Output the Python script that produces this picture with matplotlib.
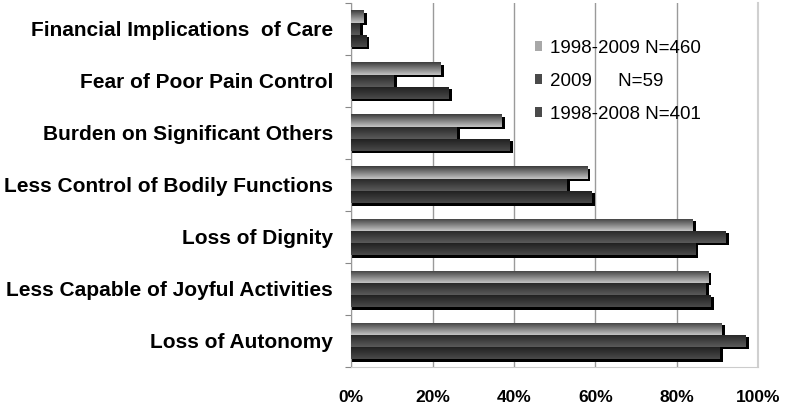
import numpy as np
import matplotlib
matplotlib.use("Agg")
import matplotlib.pyplot as plt
from matplotlib.colors import LinearSegmentedColormap

plt.rcParams['font.family'] = ['Liberation Sans', 'DejaVu Sans']

# categories top to bottom
categories = ["Financial Implications  of Care",
              "Fear of Poor Pain Control",
              "Burden on Significant Others",
              "Less Control of Bodily Functions",
              "Loss of Dignity",
              "Less Capable of Joyful Activities",
              "Loss of Autonomy"]
all_years = [3, 22, 37, 58, 84, 87.7, 91]     # 1998-2009 N=460
y2009 = [2, 10.5, 26, 53, 92, 87, 97]         # 2009 N=59
y9808 = [3.7, 24, 39, 59, 84.5, 88.4, 90.5]   # 1998-2008 N=401
series_names = ["1998-2009 N=460", "2009     N=59", "1998-2008 N=401"]

fig = plt.figure(figsize=(7.89, 4.04), dpi=100)
ax = fig.add_axes([0.445, 0.092, 0.516, 0.901])

y = np.arange(len(categories))
h = 0.235
offsets = [-h, 0, h]
grads = [("#c4c4c4", "#3c3c3c"), ("#5a5a5a", "#262626"), ("#4a4a4a", "#1e1e1e")]
legend_cols = ["#a8a8a8", "#4a4a4a", "#4a4a4a"]
data = [all_years, y2009, y9808]

grad = np.linspace(0, 1, 64).reshape(-1, 1)
for s in range(3):
    vals = np.array(data[s])
    yy = y + offsets[s]
    # drop shadow
    ax.barh(yy + 0.045, vals + 0.8, height=h, color="black", zorder=2)
    cmap = LinearSegmentedColormap.from_list("g%d" % s, grads[s])
    bars = ax.barh(yy, vals, height=h, color=legend_cols[s], zorder=3,
                   label=series_names[s])
    for b in bars:
        x0, y0 = b.get_x(), b.get_y()
        w, hh = b.get_width(), b.get_height()
        im = ax.imshow(grad, cmap=cmap, aspect="auto", zorder=4,
                       extent=(x0, x0 + w, y0, y0 + hh), origin="upper")
        im.set_clip_path(b)

ax.set_xlim(0, 100)
ax.set_ylim(len(categories) - 0.5, -0.5)
ax.set_xticks(np.arange(0, 101, 20))
ax.set_xticklabels(["%d%%" % v for v in range(0, 101, 20)],
                   fontsize=12.5, fontweight="bold")
ax.tick_params(axis="x", length=0, pad=17)
ax.set_yticks(np.arange(len(categories) + 1) - 0.5)
ax.set_yticklabels([])
ax.tick_params(axis="y", which="major", length=4, color="#888888", direction="out")
ax.set_yticks(y, minor=True)
ax.set_yticklabels(categories, minor=True, fontsize=15, fontweight="bold")
ax.tick_params(axis="y", which="minor", length=0, pad=13)
ax.grid(axis="x", color="#9a9a9a", linewidth=1, zorder=0)
ax.set_axisbelow(True)
ax.spines["top"].set_visible(False)
ax.spines["right"].set_color("#d0d0d0")
ax.spines["right"].set_linewidth(1.5)
ax.spines["left"].set_color("#999999")
ax.spines["bottom"].set_color("#cccccc")

leg = ax.legend(loc="upper left", bbox_to_anchor=(0.41, 0.945), frameon=False,
                fontsize=13.5, handlelength=0.4, handleheight=0.4,
                handletextpad=0.4, labelspacing=0.85)

fig.savefig("out.png", dpi=100)
